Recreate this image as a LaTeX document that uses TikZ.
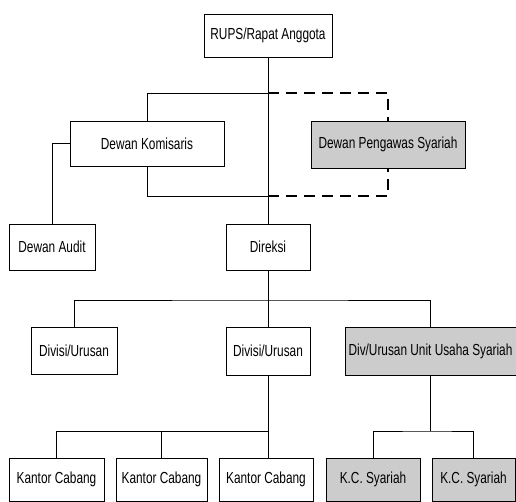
\documentclass[tikz,border=0pt]{standalone}
\usepackage{fontspec}
\setmainfont[FakeStretch=0.74]{Liberation Sans}
\usetikzlibrary{positioning, calc}
\tikzset{
    orgbox/.style={draw, line width=0.9pt, inner sep=1pt, align=center,
                   font=\fontsize{16}{18}\selectfont},
    sharibox/.style={orgbox, fill=gray!40},
    orglink/.style={line width=0.7pt},
    dashlink/.style={line width=1.4pt, dash pattern=on 11pt off 7pt}
}

\begin{document}
\begin{tikzpicture}[x=1pt, y=-1pt]
  \useasboundingbox (0,0) rectangle (516,502);
  % top level
  \node[orgbox, minimum width=128pt, minimum height=43pt] (rups) at (268,35.5) {RUPS/Rapat Anggota};
  \node[orgbox, minimum width=154pt, minimum height=45pt] (komis) at (147,143.5) {Dewan Komisaris};
  \node[sharibox, minimum width=154pt, minimum height=47pt] (dps) at (388,144.5) {Dewan Pengawas Syariah};
  \node[orgbox, minimum width=86pt, minimum height=46pt] (audit) at (52,247) {Dewan Audit};
  \node[orgbox, minimum width=84pt, minimum height=46pt] (direksi) at (268,247) {Direksi};
  % divisions
  \node[orgbox, minimum width=86pt, minimum height=47pt] (divA) at (74,350.5) {Divisi/Urusan};
  \node[orgbox, minimum width=84pt, minimum height=48pt] (divB) at (268,351) {Divisi/Urusan};
  \node[sharibox, minimum width=171pt, minimum height=48pt] (divS) at (430.5,351) {Div/Urusan Unit Usaha Syariah};
  % branch offices
  \node[orgbox, minimum width=95pt, minimum height=43pt] (kcA) at (56.5,479.5) {Kantor Cabang};
  \node[orgbox, minimum width=91pt, minimum height=43pt] (kcB) at (161.5,479.5) {Kantor Cabang};
  \node[orgbox, minimum width=94pt, minimum height=43pt] (kcC) at (266,479.5) {Kantor Cabang};
  \node[sharibox, minimum width=94pt, minimum height=43pt] (ksA) at (373,479.5) {K.C. Syariah};
  \node[sharibox, minimum width=83pt, minimum height=43pt] (ksB) at (473.5,479.5) {K.C. Syariah};
  % junctions
  \coordinate (topj) at (268,93);
  \coordinate (botj) at (268,196);
  \coordinate (dirj) at (268,300);
  \coordinate (kcj)  at (268,431);
  \coordinate (ksj)  at (430.5,431);
  % supervision loop
  \draw[orglink] (rups) -- (direksi);
  \draw[orglink] (topj) -| (komis.north);
  \draw[orglink] (komis.south) |- (botj);
  \draw[dashlink] (topj) -| (dps.north);
  \draw[dashlink] (botj) -| (dps.south);
  \draw[orglink] (komis.west) -| (audit.north);
  % directors to divisions
  \draw[orglink] (direksi) -- (divB);
  \draw[orglink] (divA.north) |- (dirj) -| (divS.north);
  % divisions to branches
  \draw[orglink] (divB.south) -- (kcj) -| (kcA.north);
  \draw[orglink] (kcB.north) -- (kcB.north |- kcj);
  \draw[orglink] (kcj) -- (kcj |- kcC.north);
  \draw[orglink] (divS) -- (ksj);
  \draw[orglink] (ksA.north) |- (ksj) -| (ksB.north);
\end{tikzpicture}
\end{document}
